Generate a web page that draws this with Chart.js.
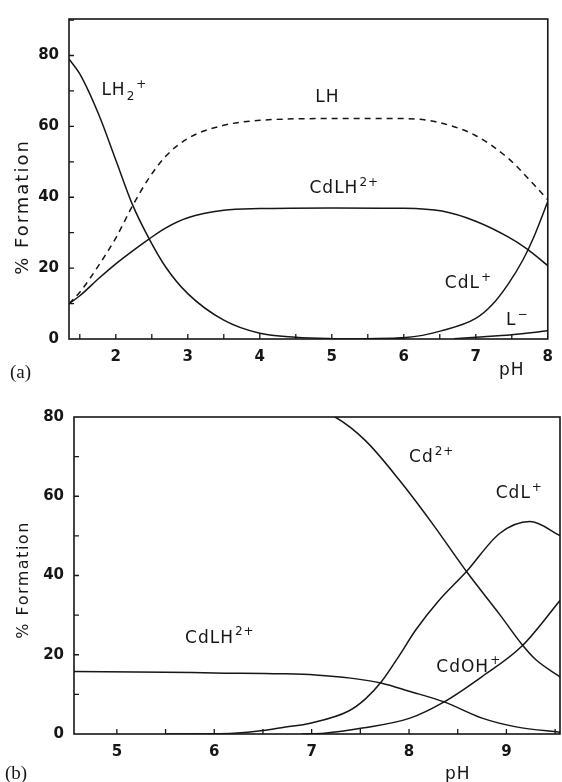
<!DOCTYPE html>
<html>
<head>
<meta charset="utf-8">
<title>% Formation vs pH</title>
<script src="https://cdn.jsdelivr.net/npm/chart.js@4.4.1/dist/chart.umd.min.js"></script>
<style>
  html, body { margin: 0; padding: 0; background: #fff; }
  #wrap { position: relative; width: 562px; height: 782px; }
  .box { position: absolute; left: 0; width: 562px; }
  #boxA { top: 0; height: 390px; }
  #boxB { top: 390px; height: 392px; }
</style>
</head>
<body>
<div id="wrap">
  <div class="box" id="boxA"><canvas id="chartA"></canvas></div>
  <div class="box" id="boxB"><canvas id="chartB"></canvas></div>
</div>
<script>
// --- DATA, panel (a) ---
const xTicksA = [2, 3, 4, 5, 6, 7, 8];
const yTicksA = [0, 20, 40, 60, 80];

const phLH2 = [1.35, 1.5, 1.77, 2.0, 2.23, 2.46, 2.69, 3.0, 3.5, 4.0, 4.5, 5.0, 5.5, 6.0];
const valLH2 = [79, 74.8, 63, 50.5, 38, 28.4, 20.4, 12.8, 5.3, 1.6, 0.5, 0.1, 0, 0];

const phLH = [1.35, 1.5, 1.77, 2.0, 2.23, 2.46, 2.69, 3.0, 3.5, 4.0, 5.0, 6.0, 6.3, 6.6, 6.99, 7.45, 7.81, 8.0];
const valLH = [10, 13.2, 21, 28.5, 37.5, 45.4, 51.5, 56.6, 60.3, 61.7, 62.2, 62.2, 61.8, 60.5, 57.5, 51, 43.5, 39.3];

const phCdLH_A = [1.35, 1.5, 1.77, 2.0, 2.23, 2.46, 2.69, 3.0, 3.5, 4.0, 5.0, 6.0, 6.53, 6.99, 7.45, 7.72, 8.0];
const valCdLH_A = [10, 12.2, 17.2, 21.2, 24.8, 28.2, 31.3, 34.2, 36.3, 36.8, 37, 36.9, 36.1, 33.3, 28.8, 25.3, 20.7];

const phCdL_A = [5.0, 5.5, 6.03, 6.52, 7.0, 7.22, 7.45, 7.66, 7.8, 8.0];
const valCdL_A = [0, 0.1, 0.4, 2.3, 5.8, 9.5, 15.5, 22.5, 28.5, 38.8];

const phL = [6.7, 7.0, 7.5, 8.0];
const valL = [0.1, 0.5, 1.2, 2.3];

// --- DATA, panel (b) ---
const xTicksB = [5, 6, 7, 8, 9];
const yTicksB = [0, 20, 40, 60, 80];

const phCd = [4.56, 5.5, 6.5, 7.0, 7.24, 7.55, 7.9, 8.24, 8.59, 8.93, 9.16, 9.3, 9.57];
const valCd = [84.2, 84.2, 83.5, 82, 80, 74.1, 64.1, 53.1, 41.0, 30.2, 22.6, 18.8, 14.1];

const phCdL_B = [5.5, 6.0, 6.2, 6.5, 6.69, 7.0, 7.38, 7.55, 7.72, 7.9, 8.07, 8.3, 8.59, 8.93, 9.24, 9.57];
const valCdL_B = [0, 0.05, 0.2, 0.9, 1.6, 2.8, 5.8, 8.8, 13.3, 19.8, 26.3, 33.5, 41.0, 50.6, 53.6, 49.8];

const phCdLH_B = [4.56, 5.5, 6.0, 6.69, 7.04, 7.4, 7.72, 8.0, 8.36, 8.75, 9.1, 9.57];
const valCdLH_B = [15.8, 15.6, 15.4, 15.2, 14.9, 14.1, 12.8, 10.8, 8.1, 4.0, 1.8, 0.4];

const phCdOH = [6.9, 7.13, 7.52, 8.01, 8.36, 8.75, 9.16, 9.57];
const valCdOH = [0, 0.2, 1.5, 4.0, 8.1, 14.5, 22.2, 34.3];

const INK = '#161616';
const FONT = '"DejaVu Sans", sans-serif';

function pairs(xs, ys) {
  return xs.map((x, i) => ({ x: x, y: ys[i] }));
}

function curve(xs, ys, dashed) {
  return {
    data: pairs(xs, ys),
    borderColor: INK,
    borderWidth: 1.5,
    borderDash: dashed ? [6, 5] : [],
    pointRadius: 0,
    fill: false,
    cubicInterpolationMode: 'monotone'
  };
}

// text with sub (-1) and super (+1) parts
function drawRich(ctx, parts, x, y, size) {
  let cx = x;
  parts.forEach(([text, pos]) => {
    const s = pos === 0 ? size : Math.round(size * 0.68);
    const dy = pos === 1 ? -size * 0.45 : (pos === -1 ? size * 0.28 : 0);
    ctx.font = s + 'px ' + FONT;
    ctx.fillText(text, cx, y + dy);
    cx += ctx.measureText(text).width + 1;
  });
}

const figurePlugin = {
  id: 'figure',
  afterDraw(chart, args, opts) {
    const ctx = chart.ctx;
    const a = chart.chartArea;
    const xs = chart.scales.x;
    const ys = chart.scales.y;
    ctx.save();
    ctx.strokeStyle = INK;
    ctx.lineWidth = 1.6;
    ctx.strokeRect(a.left, a.top, a.right - a.left, a.bottom - a.top);

    // inward tick marks
    ctx.lineWidth = 1.3;
    ctx.beginPath();
    for (let k = Math.ceil(xs.min * 2); k / 2 < xs.max - 0.01; k++) {
      const px = xs.getPixelForValue(k / 2);
      ctx.moveTo(px, a.bottom);
      ctx.lineTo(px, a.bottom - 5);
    }
    for (let k = 1; k * 10 < ys.max - 0.01; k++) {
      const py = ys.getPixelForValue(k * 10);
      ctx.moveTo(a.left, py);
      ctx.lineTo(a.left + 5, py);
    }
    ctx.stroke();

    ctx.fillStyle = INK;
    ctx.textAlign = 'left';
    ctx.textBaseline = 'alphabetic';
    if ('letterSpacing' in ctx) ctx.letterSpacing = '1px';
    opts.labels.forEach(l => {
      drawRich(ctx, l.parts, xs.getPixelForValue(l.x), ys.getPixelForValue(l.y), 17);
    });
    drawRich(ctx, [['pH', 0]], opts.phPos[0], opts.phPos[1], 17);

    // panel letter
    if ('letterSpacing' in ctx) ctx.letterSpacing = '0px';
    ctx.font = '19px "Liberation Serif", serif';
    ctx.fillText(opts.panel, opts.panelPos[0], opts.panelPos[1]);

    // y axis title
    ctx.translate(opts.titlePos[0], opts.titlePos[1]);
    ctx.rotate(-Math.PI / 2);
    ctx.textAlign = 'center';
    ctx.textBaseline = 'middle';
    if ('letterSpacing' in ctx) ctx.letterSpacing = opts.titleSpacing;
    ctx.font = opts.titleSize + 'px ' + FONT;
    ctx.fillText('% Formation', 0, 0);
    ctx.restore();
  }
};

function createChart(canvasId, datasets, cfg) {
  return new Chart(document.getElementById(canvasId), {
    type: 'line',
    data: { datasets: datasets },
    plugins: [figurePlugin],
    options: {
      responsive: true,
      maintainAspectRatio: false,
      animation: false,
      layout: { padding: { top: cfg.padTop, right: cfg.padRight, left: 0, bottom: 0 } },
      plugins: {
        legend: { display: false },
        tooltip: { enabled: false },
        figure: cfg.figure
      },
      scales: {
        x: {
          type: 'linear',
          min: cfg.xMin,
          max: cfg.xMax,
          grid: { display: false, drawTicks: false },
          border: { display: false },
          afterBuildTicks: (scale) => { scale.ticks = cfg.xTicks.map(v => ({ value: v })); },
          afterFit: (scale) => { scale.height = cfg.xHeight; },
          ticks: { padding: 9, color: INK, maxRotation: 0, font: { family: FONT, size: 15, weight: 'bold' } }
        },
        y: {
          min: 0,
          max: cfg.yMax,
          grid: { display: false, drawTicks: false },
          border: { display: false },
          afterBuildTicks: (scale) => { scale.ticks = cfg.yTicks.map(v => ({ value: v })); },
          afterFit: (scale) => { scale.width = cfg.yWidth; },
          ticks: { padding: 10, color: INK, font: { family: FONT, size: 15, weight: 'bold' } }
        }
      }
    }
  });
}

createChart('chartA', [
  curve(phLH2, valLH2, false),
  curve(phLH, valLH, true),
  curve(phCdLH_A, valCdLH_A, false),
  curve(phCdL_A, valCdL_A, false),
  curve(phL, valL, false)
], {
  padTop: 16, padRight: 7, xHeight: 51, yWidth: 69,
  xMin: 1.35, xMax: 8, yMax: 90.3,
  xTicks: xTicksA, yTicks: yTicksA,
  figure: {
    labels: [
      { parts: [['LH', 0], ['2', -1], ['+', 1]], x: 1.8, y: 68.8 },
      { parts: [['LH', 0]], x: 4.77, y: 66.9 },
      { parts: [['CdLH', 0], ['2+', 1]], x: 4.69, y: 41.1 },
      { parts: [['CdL', 0], ['+', 1]], x: 6.57, y: 14.3 },
      { parts: [['L', 0], ['\u2212', 1]], x: 7.42, y: 3.9 }
    ],
    phPos: [499, 375],
    panel: '(a)', panelPos: [10, 378],
    titlePos: [23, 207], titleSize: 18, titleSpacing: '2px'
  }
});

createChart('chartB', [
  curve(phCd, valCd, false),
  curve(phCdL_B, valCdL_B, false),
  curve(phCdLH_B, valCdLH_B, false),
  curve(phCdOH, valCdOH, false)
], {
  padTop: 27, padRight: 2, xHeight: 48, yWidth: 74,
  xMin: 4.56, xMax: 9.55, yMax: 80,
  xTicks: xTicksB, yTicks: yTicksB,
  figure: {
    labels: [
      { parts: [['Cd', 0], ['2+', 1]], x: 8.0, y: 68.6 },
      { parts: [['CdL', 0], ['+', 1]], x: 8.89, y: 59.5 },
      { parts: [['CdLH', 0], ['2+', 1]], x: 5.7, y: 23.0 },
      { parts: [['CdOH', 0], ['+', 1]], x: 8.28, y: 15.7 }
    ],
    phPos: [445, 389],
    panel: '(b)', panelPos: [5, 389],
    titlePos: [24, 190], titleSize: 16, titleSpacing: '1.5px'
  }
});
</script>
</body>
</html>
